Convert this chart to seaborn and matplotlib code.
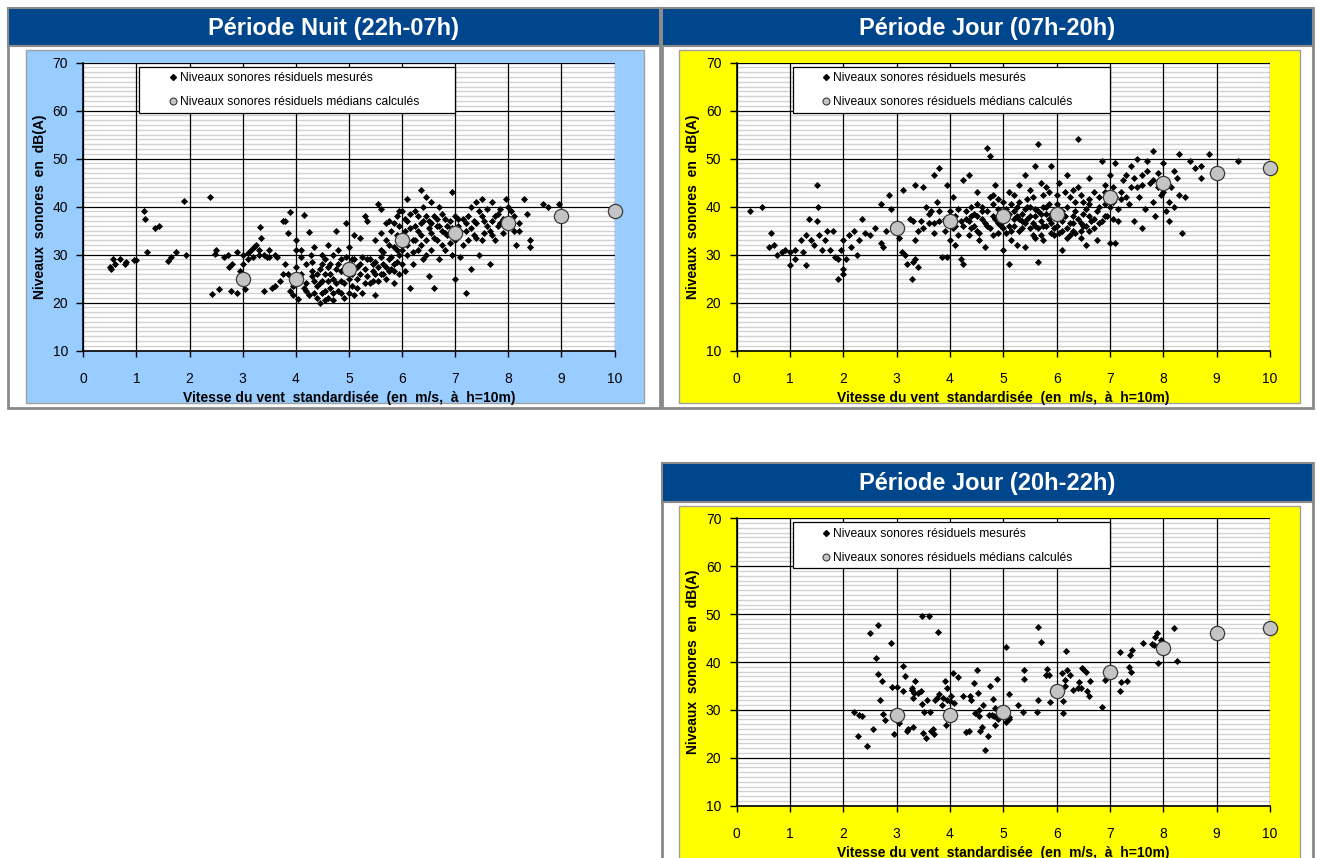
import matplotlib
matplotlib.use("Agg")
import matplotlib.pyplot as plt
from matplotlib.patches import Rectangle
from matplotlib.lines import Line2D
from matplotlib.ticker import MultipleLocator
import seaborn as sns
import pandas as pd

# ---------------- DATA ----------------
wind_ticks = [0, 1, 2, 3, 4, 5, 6, 7, 8, 9, 10]
level_ticks = [10, 20, 30, 40, 50, 60, 70]

median_wind = [3, 4, 5, 6, 7, 8, 9, 10]
nuit_median = [25, 25, 27, 33, 34.5, 36.5, 38, 39]
jour_median = [35.5, 37, 38, 38.5, 42, 45, 47, 48]
soir_median = [29, 29, 29.5, 34, 38, 43, 46, 47]

nuit_points = [
    (0.5, 27.5), (0.52, 27), (0.55, 29), (0.6, 28), (0.7, 29), (0.78, 28), (0.8, 28.5), (0.95, 28.8),
    (1.0, 28.8), (1.15, 39), (1.17, 37.5), (1.2, 30.5), (1.35, 35.5), (1.42, 36), (1.6, 28.7),
    (1.65, 29.5), (1.75, 30.5), (1.9, 41.2), (1.93, 30), (2.38, 42), (2.42, 21.8), (2.48, 30.2),
    (2.5, 31), (2.55, 22.8), (2.65, 29.5), (2.72, 30), (2.75, 27.5), (2.78, 22.5), (2.8, 28),
    (2.9, 30.5), (2.9, 22), (2.95, 26.5), (3.0, 28), (3.0, 30), (3.05, 22.8), (3.1, 30.3), (3.15, 31),
    (3.2, 29.5), (3.22, 31.5), (3.25, 32), (3.3, 30), (3.32, 35.8), (3.35, 33.5), (3.4, 30), (3.4, 22.5),
    (3.45, 29.5), (3.5, 31), (3.55, 23), (3.6, 30), (3.65, 29.5), (3.7, 24.5), (3.75, 26), (3.75, 37),
    (3.8, 37), (3.8, 28), (3.85, 34.5), (3.9, 38.8), (3.9, 22.5), (3.95, 23.5), (3.95, 21.5), (4.0, 33),
    (4.0, 31), (4.05, 20.8), (4.1, 26), (4.1, 31), (4.15, 38.2), (4.2, 28), (4.2, 24), (4.25, 34.8),
    (4.28, 30), (4.3, 26.5), (4.35, 31.5), (4.35, 22), (4.4, 26), (4.4, 21), (4.45, 20), (4.45, 27),
    (4.5, 28), (4.5, 24.5), (4.5, 22), (4.55, 29), (4.55, 26), (4.6, 32), (4.6, 21), (4.65, 28),
    (4.65, 23), (4.7, 30), (4.7, 25), (4.7, 20.5), (4.75, 27), (4.75, 35), (4.8, 31), (4.8, 22.5),
    (4.85, 29), (4.85, 26.5), (4.9, 24), (4.9, 21), (4.95, 29.5), (4.95, 36.5), (5.0, 28), (5.0, 22),
    (5.0, 31.5), (5.05, 26), (5.1, 34), (5.1, 29), (5.1, 21.5), (5.15, 25), (5.2, 28), (5.2, 33.5),
    (5.25, 22), (5.3, 27), (5.3, 38), (5.35, 37), (5.4, 29), (5.4, 24), (5.45, 28), (5.5, 21.5),
    (5.5, 26), (5.55, 40.5), (5.6, 39.5), (5.6, 31), (5.65, 28), (5.65, 26), (5.7, 36.5), (5.7, 33),
    (5.7, 25), (5.75, 37), (5.75, 29), (5.8, 27), (5.8, 35), (5.85, 31.5), (5.85, 24), (5.9, 38),
    (5.9, 34), (5.9, 28.5), (5.95, 36), (5.95, 26), (6.0, 39), (6.0, 31), (6.05, 35), (6.05, 26.5),
    (6.1, 41.5), (6.1, 37), (6.1, 30), (6.15, 23), (6.2, 33), (6.2, 28), (6.25, 36), (6.3, 38),
    (6.3, 31), (6.35, 43.5), (6.35, 34), (6.4, 37), (6.4, 29), (6.45, 42), (6.45, 33), (6.5, 35.5),
    (6.5, 25.5), (6.55, 41), (6.55, 31), (6.6, 38), (6.6, 23), (6.65, 36), (6.65, 33), (6.7, 40),
    (6.7, 29), (6.75, 35), (6.8, 37.5), (6.8, 31), (6.85, 34), (6.9, 37), (6.95, 43), (6.95, 30),
    (7.0, 38), (7.0, 25), (7.0, 33), (7.05, 36), (7.1, 29.5), (7.15, 32), (7.2, 22), (7.2, 35),
    (7.25, 38), (7.3, 40), (7.3, 27), (7.35, 34), (7.4, 41), (7.4, 36.5), (7.45, 30), (7.5, 41.5),
    (7.5, 33), (7.55, 37), (7.6, 39.5), (7.65, 35), (7.65, 28), (7.7, 41), (7.75, 38), (7.75, 33),
    (7.8, 36), (7.85, 39.5), (7.9, 34.5), (7.95, 41.5), (8.0, 40), (8.05, 37), (8.1, 35), (8.15, 32),
    (8.3, 41.5), (8.35, 38.5), (8.4, 31.5), (8.4, 33), (8.65, 40.5), (8.75, 40), (8.95, 40.5),
    (4.3, 25.5), (4.4, 23.5), (4.55, 22.5), (4.6, 27.5), (4.75, 24), (4.85, 22), (5.05, 23.5),
    (5.15, 27.5), (5.25, 29.5), (5.35, 25.5), (5.45, 24.5), (5.55, 27.5), (5.6, 29.5), (5.75, 26.5),
    (5.85, 28), (5.95, 30), (6.05, 32.5), (6.15, 35.5), (6.25, 33), (6.35, 36.5), (6.45, 38),
    (6.55, 34.5), (6.65, 37.5), (6.75, 32), (6.85, 36), (7.05, 34), (7.15, 37.5), (7.25, 33),
    (7.35, 37), (7.45, 39), (7.55, 34.5), (7.7, 37), (7.85, 36.5), (8.0, 36), (8.2, 35),
    (4.05, 25), (4.15, 23), (4.25, 21.5), (4.3, 28.5), (4.45, 24), (4.5, 30), (4.6, 24.5), (4.65, 26),
    (4.7, 22), (4.8, 28), (4.85, 24.5), (4.95, 27), (5.0, 25), (5.05, 29), (5.15, 23), (5.2, 26),
    (5.3, 24), (5.35, 29), (5.45, 26.5), (5.5, 28.5), (5.55, 24.5), (5.6, 26), (5.65, 30.5),
    (5.7, 27.5), (5.8, 29.5), (5.85, 26.5), (5.9, 31), (6.0, 28), (6.0, 34), (6.1, 32), (6.15, 38.5),
    (6.2, 30.5), (6.25, 39), (6.3, 35), (6.35, 32), (6.4, 40), (6.45, 30), (6.5, 37), (6.55, 36.5),
    (6.6, 33.5), (6.7, 36), (6.75, 38.5), (6.8, 34.5), (6.9, 32.5), (6.95, 35.5), (7.05, 37.5),
    (7.1, 35), (7.2, 36.5), (7.3, 35.5), (7.4, 33.5), (7.5, 38), (7.6, 36), (7.7, 34), (7.8, 38.5),
    (7.9, 37.5), (8.05, 39), (8.1, 38), (8.2, 36.5), (5.5, 33), (5.6, 34.5), (5.75, 32), (5.85, 36.5),
    (6.05, 37.5), (5.95, 39), (3.1, 29), (3.3, 31), (3.5, 29.5), (3.6, 23.5), (3.85, 26), (4.0, 27.5),
    (4.1, 29.5), (4.2, 22.5), (4.35, 24.5), (4.55, 20.5),
]

jour_points = [
    (0.25, 39), (0.48, 40), (0.6, 31.5), (0.65, 34.5), (0.7, 32), (0.75, 30), (0.85, 30.5), (0.9, 31),
    (1.0, 27.8), (1.0, 30.5), (1.1, 29), (1.1, 31), (1.2, 33), (1.25, 30.5), (1.3, 34), (1.3, 27.8),
    (1.35, 37.5), (1.4, 33), (1.45, 32), (1.5, 44.5), (1.5, 37), (1.52, 40), (1.55, 34), (1.6, 31),
    (1.65, 33), (1.7, 35), (1.75, 31), (1.8, 35), (1.85, 29.5), (1.9, 25), (1.9, 29), (1.95, 31),
    (2.0, 27), (2.0, 26), (2.0, 33), (2.05, 29), (2.1, 34), (2.15, 31.5), (2.2, 35), (2.25, 30),
    (2.3, 33), (2.35, 37.5), (2.4, 34.5), (2.5, 34), (2.6, 35.5), (2.7, 40.5), (2.7, 32.5),
    (2.75, 31.5), (2.8, 35), (2.85, 42.5), (2.9, 39.5), (2.95, 36), (3.0, 35), (3.05, 33.5),
    (3.1, 30.5), (3.12, 43.5), (3.15, 30), (3.2, 28), (3.25, 37.5), (3.28, 25), (3.3, 28.5),
    (3.35, 29), (3.35, 33), (3.4, 27.5), (3.35, 44.5), (3.45, 37), (3.5, 44), (3.55, 40), (3.6, 36.5),
    (3.65, 39), (3.7, 34.5), (3.7, 46.5), (3.75, 41), (3.8, 48), (3.8, 37), (3.85, 29.5), (3.9, 35),
    (3.95, 29.5), (3.95, 44.5), (4.0, 39), (4.0, 33), (4.05, 42), (4.1, 36), (4.1, 32), (4.15, 39.5),
    (4.2, 29), (4.25, 28), (4.25, 45.5), (4.3, 37.5), (4.35, 46.5), (4.35, 34), (4.4, 40), (4.45, 36),
    (4.5, 43), (4.5, 38), (4.55, 33), (4.6, 40), (4.65, 36.5), (4.65, 31.5), (4.7, 52.2), (4.75, 50.5),
    (4.75, 42), (4.8, 38), (4.8, 34), (4.85, 44.5), (4.9, 39.5), (4.95, 36), (5.0, 41), (5.0, 31),
    (5.05, 37.5), (5.1, 28), (5.1, 43), (5.15, 35), (5.2, 39), (5.25, 32), (5.3, 41), (5.3, 44.5),
    (5.35, 37), (5.4, 31.5), (5.4, 46.5), (5.45, 40), (5.5, 35.5), (5.55, 42), (5.6, 38), (5.6, 48.5),
    (5.65, 53), (5.65, 28.5), (5.7, 34), (5.7, 45), (5.75, 40), (5.8, 36), (5.85, 43), (5.9, 48.5),
    (5.9, 38.5), (5.95, 34), (6.0, 40.5), (6.05, 45), (6.1, 31), (6.1, 37), (6.2, 46.5), (6.25, 42),
    (6.3, 35), (6.35, 39), (6.4, 54), (6.4, 44), (6.45, 36.5), (6.5, 41), (6.55, 32), (6.6, 46),
    (6.6, 38), (6.7, 43), (6.75, 33), (6.8, 40), (6.85, 49.5), (6.9, 44.5), (6.95, 38), (7.0, 46.5),
    (7.0, 32.5), (7.05, 41), (7.1, 49), (7.1, 32.5), (7.15, 37), (7.2, 43), (7.3, 46.5), (7.35, 40.5),
    (7.4, 48.5), (7.45, 37), (7.5, 50), (7.5, 44), (7.55, 42), (7.6, 35.5), (7.65, 39.5), (7.7, 49.5),
    (7.75, 45), (7.8, 51.5), (7.8, 41), (7.85, 38), (7.9, 47), (7.95, 42.5), (8.0, 49), (8.05, 39),
    (8.1, 37), (8.15, 44), (8.2, 47.5), (8.25, 46), (8.3, 51), (8.3, 42.5), (8.35, 34.5), (8.4, 42),
    (8.5, 49.5), (8.6, 48), (8.7, 48.5), (8.7, 46), (8.85, 51), (9.4, 49.5),
    (4.2, 37), (4.4, 35.5), (4.6, 37.5), (4.7, 39), (4.9, 36.5), (5.0, 37), (5.1, 38.5), (5.2, 36),
    (5.3, 37.5), (5.4, 39.5), (5.5, 38), (5.6, 36), (5.7, 37), (5.8, 38.5), (5.9, 36.5), (6.0, 37.5),
    (6.1, 39), (6.2, 35.5), (6.3, 38), (6.5, 36), (6.7, 37.5), (6.9, 40.5), (4.3, 39), (4.8, 40.5),
    (5.15, 40.5), (5.45, 41.5), (5.75, 42.5), (6.15, 43), (6.45, 42.5), (6.8, 42), (7.2, 41.5),
    (7.6, 44.5), (4.55, 34.5), (5.05, 34.5), (5.55, 34), (6.05, 34.5), (6.6, 35), (3.9, 37.5),
    (3.6, 38.5), (4.05, 35.5), (4.45, 38.5), (4.95, 39), (5.25, 38), (5.65, 39), (5.85, 40.5),
    (6.25, 36.5), (6.55, 39.5), (6.85, 37), (7.05, 44), (7.25, 45.5), (7.45, 46), (7.7, 47.5),
    (7.9, 44), (8.1, 41), (5.35, 35.5), (5.95, 35.5), (6.35, 34.5), (4.75, 35.5), (4.15, 34),
    (4.25, 36), (4.35, 37), (4.5, 35), (4.6, 39), (4.7, 36), (4.85, 37.5), (4.9, 41.5), (5.0, 35.5),
    (5.05, 39.5), (5.1, 36), (5.2, 37.5), (5.25, 40), (5.3, 35), (5.35, 38.5), (5.4, 36.5),
    (5.45, 37.5), (5.5, 40), (5.55, 36.5), (5.6, 39.5), (5.65, 35.5), (5.7, 38.5), (5.75, 36),
    (5.8, 40), (5.85, 37.5), (5.9, 34.5), (5.95, 38), (6.0, 36), (6.05, 39.5), (6.1, 35), (6.15, 38),
    (6.2, 40), (6.25, 34), (6.3, 36.5), (6.35, 41), (6.4, 37.5), (6.45, 35), (6.5, 38.5), (6.55, 36),
    (6.6, 40.5), (6.65, 37), (6.7, 35.5), (6.75, 39), (6.8, 36.5), (6.9, 38), (7.0, 40), (7.05, 37.5),
    (7.1, 42), (7.15, 39.5), (4.5, 40.5), (4.8, 42.5), (5.2, 42.5), (5.5, 43.5), (5.8, 44), (6.0, 42.5),
    (6.3, 43.5), (6.6, 41.5), (6.9, 43), (7.3, 42), (7.4, 44), (7.6, 46.5), (7.8, 45.5), (8.0, 43),
    (8.2, 40), (3.7, 36.5), (3.8, 39), (4.0, 37.5), (4.1, 38), (3.5, 35.5), (3.3, 37), (3.4, 35),
    (4.4, 38), (4.9, 34.5), (5.15, 33), (5.6, 33.5), (5.75, 33), (6.2, 33.5), (6.45, 33.5),
]

soir_points = [
    (2.2, 29.5), (2.28, 24.5), (2.3, 29), (2.35, 28.7), (2.45, 22.5), (2.5, 46), (2.55, 26),
    (2.62, 40.8), (2.65, 37.5), (2.65, 47.8), (2.68, 32), (2.72, 36), (2.75, 29.2), (2.78, 27.8),
    (2.9, 44), (2.92, 34.8), (2.95, 25), (3.0, 34.8), (3.05, 27.3), (3.12, 39.2), (3.12, 34),
    (3.15, 37), (3.2, 25.5), (3.22, 26), (3.28, 34.5), (3.28, 34.2), (3.3, 32.5), (3.3, 26.5),
    (3.32, 33.5), (3.35, 36), (3.4, 33.5), (3.45, 34), (3.47, 49.6), (3.48, 31.2), (3.5, 25.2),
    (3.52, 29.5), (3.55, 24.2), (3.57, 32), (3.6, 49.6), (3.62, 29.5), (3.65, 25.5), (3.68, 26),
    (3.7, 25), (3.72, 32), (3.75, 32.5), (3.78, 46.2), (3.8, 33.3), (3.85, 31), (3.87, 32.5),
    (3.9, 36), (3.92, 26.8), (3.95, 34.5), (3.95, 32), (4.0, 31.8), (4.02, 33), (4.05, 37.6),
    (4.08, 31.5), (4.15, 36.8), (4.25, 32.8), (4.3, 25.3), (4.35, 25.5), (4.37, 32.8), (4.4, 32),
    (4.45, 35.7), (4.47, 29.4), (4.5, 38.4), (4.52, 33.5), (4.55, 30), (4.55, 28.7), (4.57, 25.5),
    (4.6, 26.4), (4.62, 31), (4.65, 21.6), (4.72, 24.6), (4.73, 29), (4.75, 35), (4.78, 29),
    (4.8, 32.2), (4.82, 28.8), (4.85, 26.8), (4.85, 30.3), (4.88, 36.5), (4.9, 28), (4.92, 28.5),
    (5.05, 43.2), (5.05, 27.5), (5.1, 33.3), (5.1, 28.5), (5.1, 28), (5.27, 31), (5.37, 29.5),
    (5.38, 38.3), (5.38, 36.5), (5.63, 29.5), (5.65, 32), (5.65, 47.3), (5.7, 44.2), (5.8, 37.3),
    (5.82, 38.5), (5.85, 37.2), (5.87, 31.7), (6.1, 37.6), (6.12, 31.8), (6.12, 29.3), (6.15, 36.2),
    (6.15, 35), (6.17, 42.2), (6.2, 38.3), (6.25, 37.3), (6.3, 34.2), (6.4, 34.5), (6.42, 35.8),
    (6.45, 34.5), (6.47, 38.8), (6.5, 38.6), (6.55, 38), (6.57, 34), (6.6, 32.8), (6.62, 36),
    (6.85, 30.6), (6.9, 36.3), (7.18, 34), (7.18, 42), (7.2, 35.8), (7.32, 36), (7.35, 39),
    (7.38, 41.5), (7.4, 38), (7.42, 42.5), (7.62, 43.9), (7.78, 43.7), (7.82, 43.5), (7.85, 45.2),
    (7.88, 46), (7.9, 39.8), (7.95, 44.6), (8.2, 47.2), (8.25, 40.2),
]

titles = ["Période Nuit (22h-07h)", "Période Jour (07h-20h)", "Période Jour (20h-22h)"]
xlabel = "Vitesse du vent  standardisée  (en  m/s,  à  h=10m)"
ylabel = "Niveaux  sonores  en  dB(A)"
legend_labels = ["Niveaux sonores résiduels mesurés", "Niveaux sonores résiduels médians calculés"]

# ---------------- STYLE ----------------
sns.set_theme(style="white")
plt.rcParams["font.family"] = ["Liberation Sans", "DejaVu Sans"]

W, H = 1317, 858
fig = plt.figure(figsize=(W / 100, H / 100), dpi=100)
fig.patch.set_facecolor("white")

TITLE_BLUE = "#00468C"
FRAME_GREY = "#8a8a8a"


def rect(x0, y0, x1, y1, **kw):
    fig.add_artist(Rectangle((x0 / W, 1 - y1 / H), (x1 - x0) / W, (y1 - y0) / H,
                             transform=fig.transFigure, **kw))


def panel(frame, bar, bg, bgcolor, axbox, title, points, medians):
    rect(*frame, facecolor="white", edgecolor=FRAME_GREY, lw=2, zorder=-3)
    rect(*bg, facecolor=bgcolor, edgecolor="#a0a0a0", lw=1, zorder=-2)
    rect(*bar, facecolor=TITLE_BLUE, edgecolor=FRAME_GREY, lw=1.5, zorder=-1)
    fig.text(((bar[0] + bar[2]) / 2) / W, 1 - ((bar[1] + bar[3]) / 2 + 1) / H, title,
             color="white", fontsize=17, fontweight="bold", ha="center", va="center", zorder=3)

    l, t, r, b = axbox
    ax = fig.add_axes([l / W, 1 - b / H, (r - l) / W, (b - t) / H])
    ax.set_zorder(5)
    ax.set_facecolor("white")
    ax.set_axisbelow(True)

    df = pd.DataFrame(points, columns=["vent", "niveau"])
    dm = pd.DataFrame({"vent": median_wind, "niveau": medians})
    sns.scatterplot(data=df, x="vent", y="niveau", ax=ax, marker="D", s=13,
                    color="black", edgecolor="black", linewidth=0, zorder=3, legend=False)
    sns.scatterplot(data=dm, x="vent", y="niveau", ax=ax, marker="o", s=105,
                    color="#c4c4c4", edgecolor="#3a3a3a", linewidth=0.9, zorder=4,
                    legend=False, clip_on=False)

    ax.set_xlim(0, 10)
    ax.set_ylim(10, 70)
    ax.set_xticks(wind_ticks)
    ax.set_yticks(level_ticks)
    ax.yaxis.set_minor_locator(MultipleLocator(1))
    ax.grid(which="minor", axis="y", color="#d2d2d2", lw=1.0)
    ax.grid(which="major", axis="both", color="black", lw=0.9)
    # vertical grid lines above the light horizontal ones
    ax.yaxis.set_zorder(0.4)
    ax.xaxis.set_zorder(0.6)
    ax.tick_params(axis="x", which="major", direction="out", length=4, width=1,
                   color="black", labelsize=10, pad=11, labelcolor="black")
    ax.tick_params(axis="y", which="major", direction="out", length=5, width=1,
                   color="black", labelsize=10, pad=6, labelcolor="black")
    ax.tick_params(axis="y", which="minor", length=0)
    ax.tick_params(bottom=True, left=True)
    for s in ["top", "right"]:
        ax.spines[s].set_visible(False)
    for s in ["left", "bottom"]:
        ax.spines[s].set_color("black")
        ax.spines[s].set_linewidth(1.2)
    ax.set_xlabel(xlabel, fontsize=10, fontweight="bold", labelpad=4, color="black")
    ax.set_ylabel(ylabel, fontsize=10, fontweight="bold", labelpad=4, color="black")

    ax.add_patch(Rectangle((0.105, 0.826), 0.595, 0.16, transform=ax.transAxes,
                           facecolor="white", edgecolor="black", lw=0.9, zorder=5))
    handles = [
        Line2D([], [], ls="", marker="D", markersize=3, color="black"),
        Line2D([], [], ls="", marker="o", markersize=5, markerfacecolor="#c4c4c4",
               markeredgecolor="#3a3a3a", markeredgewidth=0.8),
    ]
    leg = ax.legend(handles, legend_labels, loc="upper left", bbox_to_anchor=(0.151, 0.986),
                    frameon=False, fontsize=8.7, borderpad=0.45, handlelength=0.6,
                    handletextpad=0.3, labelspacing=1.0, borderaxespad=0)
    leg.set_zorder(6)
    for txt in leg.get_texts():
        txt.set_color("black")
    return ax


panel((8, 8, 660, 408), (8, 8, 660, 46), (26, 50, 644, 403), "#99CCFF",
      (83.3, 62.7, 614.5, 350.7), titles[0], nuit_points, nuit_median)
panel((662, 8, 1313, 408), (662, 8, 1313, 46), (679, 50, 1300, 403), "#FFFF00",
      (736.6, 62.7, 1270, 350.7), titles[1], jour_points, jour_median)
panel((662, 463, 1313, 870), (662, 463, 1313, 502), (679, 506, 1300, 870), "#FFFF00",
      (736.6, 518.3, 1270, 805.7), titles[2], soir_points, soir_median)

fig.savefig("out.png", dpi=100)
